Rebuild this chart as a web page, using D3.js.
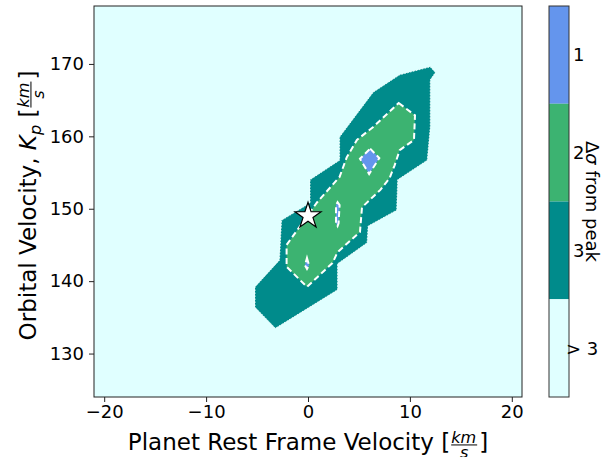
<!DOCTYPE html>
<html>
<head>
<meta charset="utf-8">
<script src="https://cdn.jsdelivr.net/npm/d3@7"></script>
<style>
  body { margin: 0; background: #fff; }
  svg { font-family: "DejaVu Sans", sans-serif; }
</style>
</head>
<body>
<div id="chart"></div>
<script>

// contour regions, [velocity, Kp]
var sigma3Region = [[12.5,168.8],[12,169.6],[9,168.5],[6.4,166.1],[3.1,159.9],[3.1,156.7],[0.2,154],[0.2,150.8],
  [-2.6,148.4],[-2.8,142.9],[-5.2,139.2],[-5.2,136.4],[-3.2,133.5],[2.9,138.8],[2.9,142.4],[5.8,145.3],
  [5.9,147.6],[8.7,149.8],[8.8,154],[11.7,156.7],[12,161.3],[12,167.8]];
var sigma2Region = [[8.9,164.6],[10.5,162.9],[10.4,159.5],[9,158.1],[8.5,156],[8,154.2],[7.1,152.6],[5.3,150.2],
  [5.1,146.8],[2.9,144],[2.4,142.5],[-0.1,139.2],[-2.1,142],[-2.1,145],[0.9,150.9],[3.1,154.4],
  [3.8,157.1],[4.8,159.5],[6.4,161.3]];
var sigma1Regions = [
  [[6.1,158.3],[7,157],[6,154.8],[5.1,156.9]],
  [[2.9,150.9],[3.1,150.5],[3,148],[2.9,147.6],[2.75,148],[2.75,150.5]],
  [[-0.1,143.2],[0.1,142.2],[-0.1,141.7],[-0.3,142.2]]
];
var starPoint = [0, 149];

var xTicks = [-20, -10, 0, 10, 20];
var yTicks = [130, 140, 150, 160, 170];
var cbLabels = ["1", "2", "3", "> 3"];
var cbColors = ["#6495ed", "#3cb371", "#008b8b", "#e0ffff"];

//Width and height
var w = 616;
var h = 457;
var pL = 94, pR = 522, pT = 6, pB = 397;

var svg = d3.select("#chart")
  .append("svg")
  .attr("width", w)
  .attr("height", h);

var xScale = d3.scaleLinear().domain([-21, 21]).range([pL, pR]);
var yScale = d3.scaleLinear().domain([124, 178]).range([pB, pT]);

// background (outside 3 sigma)
svg.append("rect")
  .attr("x", pL).attr("y", pT)
  .attr("width", pR - pL).attr("height", pB - pT)
  .attr("fill", cbColors[3]);

var line = d3.line()
  .x(function(d) { return xScale(d[0]); })
  .y(function(d) { return yScale(d[1]); })
  .curve(d3.curveLinearClosed);

svg.append("path")
  .attr("d", line(sigma3Region))
  .attr("fill", cbColors[2])
  .attr("stroke", "#fff")
  .attr("stroke-width", 1)
  .attr("stroke-dasharray", "1.5,1.5")
  .attr("stroke-opacity", 0.85);

svg.append("path")
  .attr("d", line(sigma2Region))
  .attr("fill", cbColors[1])
  .attr("stroke", "#fff")
  .attr("stroke-width", 2)
  .attr("stroke-dasharray", "6,3.5");

svg.selectAll("path.s1")
  .data(sigma1Regions)
  .enter()
  .append("path")
  .attr("class", "s1")
  .attr("d", function(d) { return line(d); })
  .attr("fill", cbColors[0])
  .attr("stroke", "#fff")
  .attr("stroke-width", 2)
  .attr("stroke-dasharray", "6,3.5");

// star marker
svg.append("path")
  .attr("d", d3.symbol().type(d3.symbolStar).size(210)())
  .attr("transform", "translate(" + xScale(starPoint[0]) + "," + yScale(starPoint[1]) + ")")
  .attr("fill", "#fff")
  .attr("stroke", "#000")
  .attr("stroke-width", 1.2);

// frame
svg.append("rect")
  .attr("x", pL).attr("y", pT)
  .attr("width", pR - pL).attr("height", pB - pT)
  .attr("fill", "none")
  .attr("stroke", "#222")
  .attr("stroke-width", 1);

//Create X axis
var xAxis = d3.axisBottom(xScale).tickValues(xTicks).tickSize(5).tickPadding(3).tickSizeOuter(0);
svg.append("g")
  .attr("class", "x axis")
  .attr("transform", "translate(0," + pB + ")")
  .call(xAxis);

//Create Y axis
var yAxis = d3.axisLeft(yScale).tickValues(yTicks).tickSize(5).tickPadding(5).tickSizeOuter(0);
svg.append("g")
  .attr("class", "y axis")
  .attr("transform", "translate(" + pL + ",0)")
  .call(yAxis);

svg.selectAll(".axis .domain").remove();
svg.selectAll(".axis text").attr("font-size", 18).attr("font-family", "DejaVu Sans").attr("fill", "#000");
svg.selectAll(".axis line").attr("stroke", "#222");

// label with a little km/s fraction at the end
function fracLabel(g, parts, size) {
  var t = g.append("text").attr("font-size", size).attr("fill", "#000");
  parts.forEach(function(p) {
    var ts = t.append("tspan").text(p.text);
    if (p.italic) ts.attr("font-style", "italic");
    if (p.sub) ts.attr("font-size", size * 0.7).attr("dy", size * 0.22);
    if (p.unsub) ts.attr("dy", -size * 0.22);
  });
  var x0 = t.node().getComputedTextLength() + 1;
  var fs = size * 0.7;
  var km = g.append("text").attr("x", x0).attr("y", -size * 0.3)
    .attr("font-size", fs).attr("font-style", "italic").text("km");
  var kw = km.node().getComputedTextLength();
  g.append("line")
    .attr("x1", x0).attr("x2", x0 + kw + 1)
    .attr("y1", -size * 0.22).attr("y2", -size * 0.22)
    .attr("stroke", "#000").attr("stroke-width", 1);
  g.append("text").attr("x", x0 + (kw + 1) / 2).attr("y", size * 0.35)
    .attr("text-anchor", "middle")
    .attr("font-size", fs).attr("font-style", "italic").text("s");
  var br = g.append("text").attr("x", x0 + kw + 3).attr("font-size", size).text("]");
  return x0 + kw + 3 + br.node().getComputedTextLength();
}

var xl = svg.append("g");
var xlw = fracLabel(xl, [{text: "Planet Rest Frame Velocity ["}], 23);
xl.attr("transform", "translate(" + ((pL + pR) / 2 - xlw / 2) + ",450)");

var yl = svg.append("g");
var ylw = fracLabel(yl, [{text: "Orbital Velocity, "}, {text: "K", italic: true}, {text: "p", italic: true, sub: true},
  {text: " [", unsub: true}], 23);
yl.attr("transform", "translate(36," + ((pT + pB) / 2 + 4 + ylw / 2) + ")rotate(-90)");

// colorbar
var cbX = 549, cbW = 20;
var cbScale = d3.scaleBand().domain(cbLabels).range([pT, pB]);

svg.selectAll("rect.cb")
  .data(cbLabels)
  .enter()
  .append("rect")
  .attr("class", "cb")
  .attr("x", cbX)
  .attr("y", function(d) { return cbScale(d); })
  .attr("width", cbW)
  .attr("height", cbScale.bandwidth())
  .attr("fill", function(d, i) { return cbColors[i]; });

svg.append("rect")
  .attr("x", cbX).attr("y", pT)
  .attr("width", cbW).attr("height", pB - pT)
  .attr("fill", "none").attr("stroke", "#333").attr("stroke-width", 1);

svg.selectAll("text.cbl")
  .data(cbLabels)
  .enter()
  .append("text")
  .attr("class", "cbl")
  .attr("x", function(d) { return d.length > 1 ? cbX + cbW - 3 : cbX + cbW + 4; })
  .attr("y", function(d) { return cbScale(d) + cbScale.bandwidth() / 2; })
  .attr("dy", "0.36em")
  .attr("font-size", 18)
  .text(function(d) { return d; });

var cbt = svg.append("text")
  .attr("transform", "translate(586," + (pT + pB) / 2 + ")rotate(90)")
  .attr("text-anchor", "middle")
  .attr("font-size", 18);
cbt.append("tspan").text("Δ");
cbt.append("tspan").attr("font-style", "italic").text("σ");
cbt.append("tspan").text(" from peak");

</script>
</body>
</html>
